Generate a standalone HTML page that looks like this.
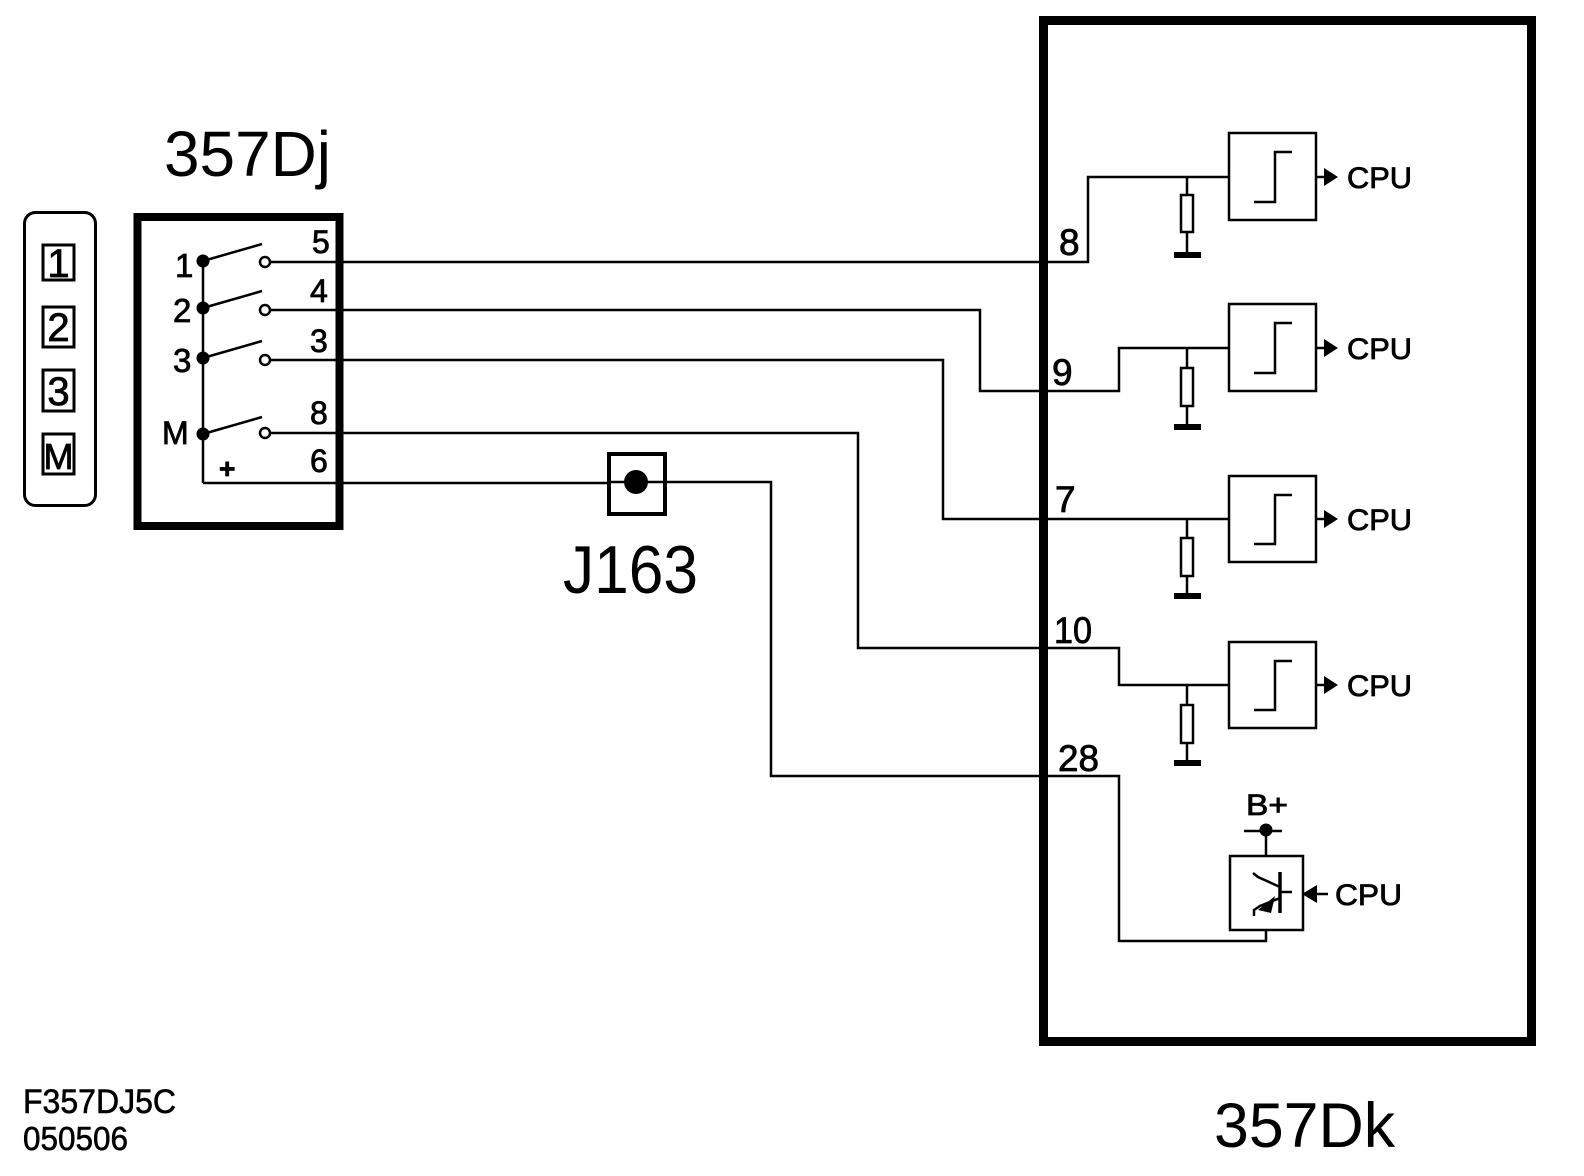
<!DOCTYPE html>
<html><head><meta charset="utf-8"><style>html,body{margin:0;padding:0;background:#fff}svg{display:block}</style></head>
<body>
<svg width="1584" height="1176" viewBox="0 0 1584 1176" xmlns="http://www.w3.org/2000/svg" font-family="Liberation Sans, Arial, sans-serif">
<rect width="1584" height="1176" fill="#fff"/>
<!-- Left pill -->
<rect x="24.5" y="212.5" width="71" height="293" rx="11" fill="none" stroke="#000" stroke-width="3"/>
<g fill="none" stroke="#000" stroke-width="3">
<rect x="43" y="245" width="31" height="35"/>
<rect x="43" y="307" width="31" height="40"/>
<rect x="43" y="370" width="31" height="41"/>
<rect x="43" y="434" width="31" height="40"/>
</g>
<g font-size="40" text-anchor="middle" stroke="#000" stroke-width="0.8">
<text x="58.5" y="277">1</text>
<text x="58.5" y="341">2</text>
<text x="58.5" y="405">3</text>
<text x="58.5" y="469" font-size="36">M</text>
</g>
<!-- Title -->
<text x="164" y="176" font-size="64" textLength="167" lengthAdjust="spacingAndGlyphs">357Dj</text>
<!-- Switch box -->
<rect x="137.5" y="217" width="202" height="309" fill="none" stroke="#000" stroke-width="8"/>
<g stroke="#000" stroke-width="2.5" fill="none">
<line x1="203" y1="261" x2="203" y2="483"/>
<line x1="203" y1="261" x2="262" y2="244"/>
<line x1="203" y1="308" x2="262" y2="291"/>
<line x1="203" y1="358" x2="262" y2="341"/>
<line x1="203" y1="434" x2="262" y2="417"/>
<circle cx="265" cy="262" r="5"/>
<circle cx="265" cy="310" r="5"/>
<circle cx="265" cy="360" r="5"/>
<circle cx="265" cy="433" r="5"/>
<polyline points="270,262 1088,262 1088,177 1229,177"/>
<polyline points="270,310 980,310 980,391 1119,391 1119,348 1229,348"/>
<polyline points="270,360 943,360 943,519 1229,519"/>
<polyline points="270,433 858,433 858,648 1119,648 1119,685 1229,685"/>
<polyline points="203,483 607,483"/>
<polyline points="667,482 771,482 771,776 1119,776 1119,941 1266,941 1266,930"/>
</g>
<g fill="#000">
<circle cx="203" cy="261" r="6.5"/>
<circle cx="203" cy="308" r="6.5"/>
<circle cx="203" cy="358" r="6.5"/>
<circle cx="203" cy="434" r="6.5"/>
</g>
<g font-size="32" stroke="#000" stroke-width="0.8">
<text x="175" y="277" font-size="33">1</text>
<text x="173" y="322" font-size="33">2</text>
<text x="173" y="372" font-size="33">3</text>
<text x="162" y="444" font-size="32">M</text>
<text x="312" y="253">5</text>
<text x="310" y="302">4</text>
<text x="310" y="352">3</text>
<text x="310" y="424">8</text>
<text x="310" y="472">6</text>
<text x="219" y="478" font-size="28" font-weight="bold">+</text>
</g>
<!-- J163 -->
<rect x="609" y="454" width="56" height="60" fill="none" stroke="#000" stroke-width="4"/>
<line x1="607" y1="482" x2="667" y2="482" stroke="#000" stroke-width="2.5"/>
<circle cx="636" cy="482" r="12" fill="#000"/>
<text x="563" y="593" font-size="68" textLength="135" lengthAdjust="spacingAndGlyphs">J163</text>
<!-- Big box -->
<rect x="1043.5" y="20.5" width="488" height="1021" fill="none" stroke="#000" stroke-width="9"/>
<g font-size="37" stroke="#000" stroke-width="0.8">
<text x="1059" y="255">8</text>
<text x="1052" y="385">9</text>
<text x="1055" y="512">7</text>
<text x="1054" y="643" textLength="38" lengthAdjust="spacingAndGlyphs">10</text>
<text x="1058" y="771" textLength="41" lengthAdjust="spacingAndGlyphs">28</text>
</g>
<g stroke="#000" stroke-width="2.5" fill="none">
<rect x="1229" y="133" width="87" height="87"/>
<rect x="1229" y="304" width="87" height="87"/>
<rect x="1229" y="476" width="87" height="86"/>
<rect x="1229" y="642" width="87" height="86"/>
<polyline points="1254,202 1275,202 1275,152 1292,152"/>
<polyline points="1254,373 1275,373 1275,323 1292,323"/>
<polyline points="1254,544 1275,544 1275,495 1292,495"/>
<polyline points="1254,710 1275,710 1275,661 1292,661"/>
<line x1="1316" y1="177" x2="1326" y2="177"/>
<line x1="1316" y1="348" x2="1326" y2="348"/>
<line x1="1316" y1="519" x2="1326" y2="519"/>
<line x1="1316" y1="685" x2="1326" y2="685"/>
<line x1="1187" y1="177" x2="1187" y2="255"/>
<line x1="1187" y1="348" x2="1187" y2="427"/>
<line x1="1187" y1="519" x2="1187" y2="596"/>
<line x1="1187" y1="685" x2="1187" y2="763"/>
</g>
<g fill="#fff" stroke="#000" stroke-width="2.5">
<rect x="1181" y="195" width="12" height="37"/>
<rect x="1181" y="368" width="12" height="38"/>
<rect x="1181" y="538" width="12" height="38"/>
<rect x="1181" y="705" width="12" height="38"/>
</g>
<g fill="#000">
<rect x="1174" y="252" width="27" height="6"/>
<rect x="1174" y="424" width="27" height="6"/>
<rect x="1174" y="593" width="27" height="6"/>
<rect x="1174" y="760" width="27" height="6"/>
<polygon points="1324,168 1338,177 1324,186"/>
<polygon points="1324,339 1338,348 1324,357"/>
<polygon points="1324,510 1338,519 1324,528"/>
<polygon points="1324,676 1338,685 1324,694"/>
</g>
<g font-size="30" stroke="#000" stroke-width="0.8">
<text x="1347" y="188" textLength="65" lengthAdjust="spacingAndGlyphs">CPU</text>
<text x="1347" y="359" textLength="65" lengthAdjust="spacingAndGlyphs">CPU</text>
<text x="1347" y="530" textLength="65" lengthAdjust="spacingAndGlyphs">CPU</text>
<text x="1347" y="696" textLength="65" lengthAdjust="spacingAndGlyphs">CPU</text>
</g>
<!-- driver -->
<g stroke="#000" stroke-width="2.5" fill="none">
<rect x="1230" y="856" width="73" height="74"/>
<line x1="1244" y1="831" x2="1282" y2="831"/>
<line x1="1266" y1="831" x2="1266" y2="856"/>
<line x1="1280" y1="872" x2="1280" y2="913" stroke-width="3.5"/>
<line x1="1280" y1="892" x2="1292" y2="892"/>
<polyline points="1253,873 1258,877 1280,887"/>
<polyline points="1280,898 1260,906 1254,910 1254,916"/>
<line x1="1315" y1="894" x2="1328" y2="894"/>
</g>
<g fill="#000">
<circle cx="1266" cy="830" r="6.5"/>
<polygon points="1302,894 1317,885 1317,903"/>
<polygon points="1258,910 1275,896 1271,913"/>
</g>
<text x="1246" y="815" font-size="30" textLength="42" lengthAdjust="spacingAndGlyphs" stroke="#000" stroke-width="0.8">B+</text>
<text x="1335" y="905" font-size="30" textLength="67" lengthAdjust="spacingAndGlyphs" stroke="#000" stroke-width="0.8">CPU</text>
<text x="1214" y="1147" font-size="63" textLength="181" lengthAdjust="spacingAndGlyphs">357Dk</text>
<text x="23" y="1113" font-size="34" textLength="153" lengthAdjust="spacingAndGlyphs" stroke="#000" stroke-width="0.6">F357DJ5C</text>
<text x="23" y="1150" font-size="33" textLength="105" lengthAdjust="spacingAndGlyphs" stroke="#000" stroke-width="0.6">050506</text>
</svg>
</body></html>
